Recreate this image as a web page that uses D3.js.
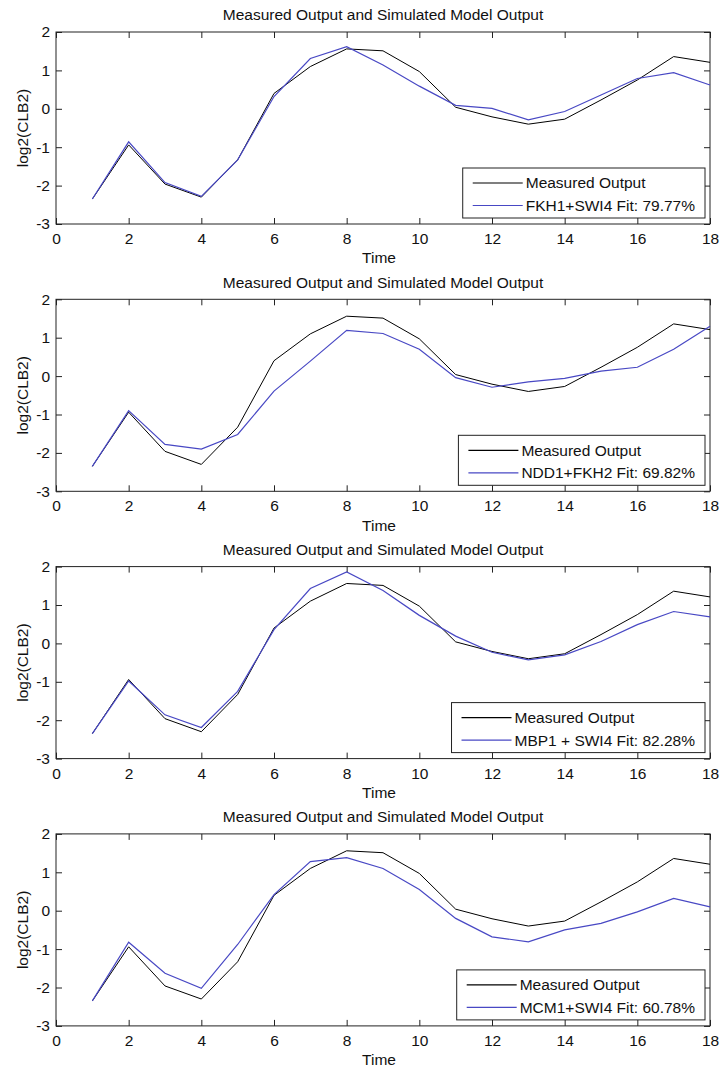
<!DOCTYPE html>
<html>
<head>
	<meta charset="utf-8">
	<script src="https://d3js.org/d3.v7.min.js"></script>
	<title>Measured Output and Simulated Model Output</title>
	<style>
		body { margin: 0; background: #fff; }
		text { font-family: Arial, "Liberation Sans", Helvetica, sans-serif; }
	</style>
</head>
<body>
	<div id="chart"></div>

	<script type="text/javascript">

		// time points and the measured log2(CLB2) series (same in every panel)
		var time = [1, 2, 3, 4, 5, 6, 7, 8, 9, 10, 11, 12, 13, 14, 15, 16, 17, 18];
		var measured = [-2.35, -0.94, -1.96, -2.30, -1.33, 0.40, 1.10, 1.56, 1.51, 0.97, 0.04, -0.21, -0.40, -0.27, 0.23, 0.75, 1.36, 1.21];

		// simulated model outputs, one per panel
		var fkh1Swi4 = [-2.35, -0.86, -1.92, -2.28, -1.33, 0.32, 1.31, 1.62, 1.14, 0.59, 0.09, 0.01, -0.29, -0.07, 0.36, 0.79, 0.94, 0.62];
		var ndd1Fkh2 = [-2.35, -0.90, -1.78, -1.90, -1.52, -0.39, 0.39, 1.19, 1.11, 0.70, -0.04, -0.29, -0.15, -0.06, 0.13, 0.23, 0.70, 1.30];
		var mbp1Swi4 = [-2.35, -0.98, -1.86, -2.19, -1.25, 0.36, 1.43, 1.86, 1.38, 0.73, 0.19, -0.23, -0.43, -0.30, 0.05, 0.49, 0.83, 0.69];
		var mcm1Swi4 = [-2.35, -0.82, -1.63, -2.02, -0.88, 0.42, 1.28, 1.38, 1.10, 0.55, -0.20, -0.68, -0.81, -0.50, -0.33, -0.03, 0.32, 0.10];

		var modelNames = ["FKH1+SWI4 Fit: 79.77%", "NDD1+FKH2 Fit: 69.82%", "MBP1 + SWI4 Fit: 82.28%", "MCM1+SWI4 Fit: 60.78%"];
		var modelValues = [fkh1Swi4, ndd1Fkh2, mbp1Swi4, mcm1Swi4];

		var xTicks = [0, 2, 4, 6, 8, 10, 12, 14, 16, 18];
		var yTicks = [-3, -2, -1, 0, 1, 2];

		var svgwidth = 720;
		var svgheight = 1071;
		var left = 56, right = 710;
		var firstTop = 32, panelStep = 267.3, panelHeight = 192;
		var fontSize = 15.5;
		var blue = "#4848c4";
		var fontFam = "Arial, 'Liberation Sans', sans-serif";

		var svg = d3.select("#chart").append("svg")
			.attr("width", svgwidth)
			.attr("height", svgheight);

		var xScale = d3.scaleLinear()
			.domain([0, 18])
			.range([left, right]);

		var line = d3.line()
			.x(function(d){ return xScale(d.t); })
			.y(function(d){ return d.y; });

		// plain hyphen minus like the original plot
		var plain = function(d){ return String(d); };

		modelValues.forEach(function(model, i){
			var top = firstTop + i * panelStep;
			var bottom = top + panelHeight;

			var yScale = d3.scaleLinear()
				.domain([-3, 2])
				.range([bottom, top]);

			var g = svg.append("g").attr("class", "panel");

			// axes, ticks pointing inward on all four sides
			var xAxis = d3.axisBottom(xScale).tickValues(xTicks).tickSize(-6).tickPadding(9).tickFormat(plain);
			var yAxis = d3.axisLeft(yScale).tickValues(yTicks).tickSize(-6).tickPadding(6).tickFormat(plain);
			var xTop = d3.axisTop(xScale).tickValues(xTicks).tickSize(-6).tickFormat("");
			var yRight = d3.axisRight(yScale).tickValues(yTicks).tickSize(-6).tickFormat("");

			g.append("g").attr("transform", "translate(0," + bottom + ")").call(xAxis);
			g.append("g").attr("transform", "translate(" + left + ",0)").call(yAxis);
			g.append("g").attr("transform", "translate(0," + top + ")").call(xTop);
			g.append("g").attr("transform", "translate(" + right + ",0)").call(yRight);

			g.selectAll(".domain").remove();
			g.selectAll(".tick line").attr("stroke", "#222");
			g.selectAll(".tick text")
				.attr("font-size", fontSize)
				.attr("fill", "#111")
				.attr("font-family", fontFam);

			g.append("rect")
				.attr("x", left)
				.attr("y", top)
				.attr("width", right - left)
				.attr("height", bottom - top)
				.attr("fill", "none")
				.attr("stroke", "#222")
				.attr("stroke-width", 1);

			// data lines
			var measuredPts = time.map(function(t, k){ return {t: t, y: yScale(measured[k])}; });
			var modelPts = time.map(function(t, k){ return {t: t, y: yScale(model[k])}; });

			g.append("path")
				.attr("d", line(measuredPts))
				.attr("fill", "none")
				.attr("stroke", "#000")
				.attr("stroke-width", 1);

			g.append("path")
				.attr("d", line(modelPts))
				.attr("fill", "none")
				.attr("stroke", blue)
				.attr("stroke-width", 1.2);

			// title and axis labels
			g.append("text")
				.attr("x", (left + right) / 2)
				.attr("y", top - 17)
				.attr("dy", "0.35em")
				.attr("text-anchor", "middle")
				.attr("font-size", fontSize)
				.attr("fill", "#111")
				.text("Measured Output and Simulated Model Output");

			g.append("text")
				.attr("x", (left + right) / 2 - 4)
				.attr("y", bottom + 34)
				.attr("dy", "0.35em")
				.attr("text-anchor", "middle")
				.attr("font-size", fontSize)
				.attr("fill", "#111")
				.text("Time");

			g.append("text")
				.attr("transform", "translate(23," + (top + bottom) / 2 + ") rotate(-90)")
				.attr("dy", "0.35em")
				.attr("text-anchor", "middle")
				.attr("font-size", fontSize)
				.attr("fill", "#111")
				.text("log2(CLB2)");

			// legend, anchored to the lower right corner
			var legend = g.append("g");
			var legBox = legend.append("rect")
				.attr("fill", "#fff")
				.attr("stroke", "#222")
				.attr("stroke-width", 1);

			var entries = [{label: "Measured Output", color: "#000"}, {label: modelNames[i], color: blue}];
			var maxLen = 0;
			var texts = entries.map(function(e){
				var t = legend.append("text")
					.attr("font-size", fontSize)
					.attr("fill", "#111")
					.attr("dy", "0.35em")
					.text(e.label);
				maxLen = Math.max(maxLen, t.node().getComputedTextLength());
				return t;
			});

			var boxW = 10 + 50 + 3 + maxLen + 10;
			var boxH = 50;
			var boxX = right - 5 - boxW;
			var boxY = bottom - 6 - boxH;
			legBox.attr("x", boxX).attr("y", boxY).attr("width", boxW).attr("height", boxH);

			entries.forEach(function(e, k){
				var rowY = boxY + 15 + k * 22.5;
				legend.append("line")
					.attr("x1", boxX + 10)
					.attr("x2", boxX + 60)
					.attr("y1", rowY)
					.attr("y2", rowY)
					.attr("stroke", e.color)
					.attr("stroke-width", 1.2);
				texts[k].attr("x", boxX + 63).attr("y", rowY);
			});
		});

	</script>

</body>
</html>
